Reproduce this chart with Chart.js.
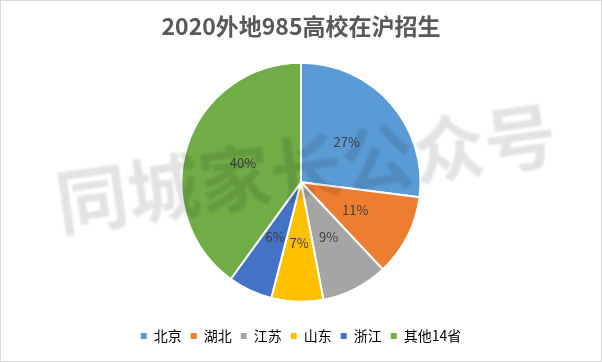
<!DOCTYPE html>
<html>
<head>
<meta charset="utf-8">
<script src="https://cdn.jsdelivr.net/npm/chart.js@4"></script>
<style>
  html, body { margin: 0; padding: 0; background: #fff; }
  #wrap { width: 602px; height: 362px; box-sizing: border-box; border: 1px solid #d9d9d9; background: #fff; }
  canvas { display: block; }
</style>
</head>
<body>
<div id="wrap"><canvas id="pie" width="600" height="360"></canvas></div>
<script>
"use strict";

const provinces = ['北京', '湖北', '江苏', '山东', '浙江', '其他14省'];
const shares = [27, 11, 9, 7, 6, 40];
const sliceColors = ['#5B9BD5', '#ED7D31', '#A5A5A5', '#FFC000', '#4472C4', '#70AD47'];
const watermark = '同城家长公众号';

const FONT = '"Noto Sans CJK SC", "Noto Sans", sans-serif';

// percent labels in the middle of every slice
const sliceLabels = {
    id: 'sliceLabels',
    afterDatasetsDraw(chart) {
        const ctx = chart.ctx;
        const meta = chart.getDatasetMeta(0);
        ctx.save();
        ctx.font = '13px ' + FONT;
        ctx.fillStyle = '#404040';
        ctx.textAlign = 'center';
        ctx.textBaseline = 'middle';
        meta.data.forEach((arc, i) => {
            const p = arc.getProps(['x', 'y', 'startAngle', 'endAngle', 'outerRadius'], true);
            const mid = (p.startAngle + p.endAngle) / 2;
            const r = p.outerRadius * 0.51;
            ctx.fillText(shares[i] + '%', p.x + Math.cos(mid) * r, p.y + Math.sin(mid) * r);
        });
        ctx.restore();
    }
};

const watermarkText = {
    id: 'watermarkText',
    afterDraw(chart) {
        const ctx = chart.ctx;
        ctx.save();
        ctx.translate(305, 167.5);
        ctx.rotate(-8 * Math.PI / 180);
        ctx.font = 'bold 72px ' + FONT;
        ctx.filter = 'blur(1px)';
        ctx.fillStyle = 'rgba(0, 0, 0, 0.11)';
        ctx.textAlign = 'center';
        ctx.textBaseline = 'middle';
        ctx.fillText(watermark, 0, 0);
        ctx.restore();
    }
};

new Chart(document.getElementById('pie'), {
    type: 'pie',
    data: {
        labels: provinces,
        datasets: [{
            data: shares,
            backgroundColor: sliceColors,
            borderColor: '#ffffff',
            borderWidth: 2,
            radius: 119.5
        }]
    },
    options: {
        responsive: false,
        animation: false,
        layout: { padding: { top: 0, bottom: 8, left: 0, right: 0 } },
        plugins: {
            title: {
                display: true,
                text: '2020外地985高校在沪招生',
                color: '#595959',
                font: { family: FONT, size: 23, weight: 'bold' },
                padding: { top: 11, bottom: 5 }
            },
            legend: {
                position: 'bottom',
                labels: {
                    boxWidth: 6,
                    boxHeight: 6,
                    padding: 9,
                    color: '#595959',
                    font: { family: FONT, size: 14 },
                    generateLabels: chart => provinces.map((name, i) => ({
                        text: name,
                        fillStyle: sliceColors[i],
                        strokeStyle: sliceColors[i],
                        lineWidth: 0,
                        index: i
                    }))
                }
            },
            tooltip: { enabled: false }
        }
    },
    plugins: [sliceLabels, watermarkText]
});
</script>
</body>
</html>
